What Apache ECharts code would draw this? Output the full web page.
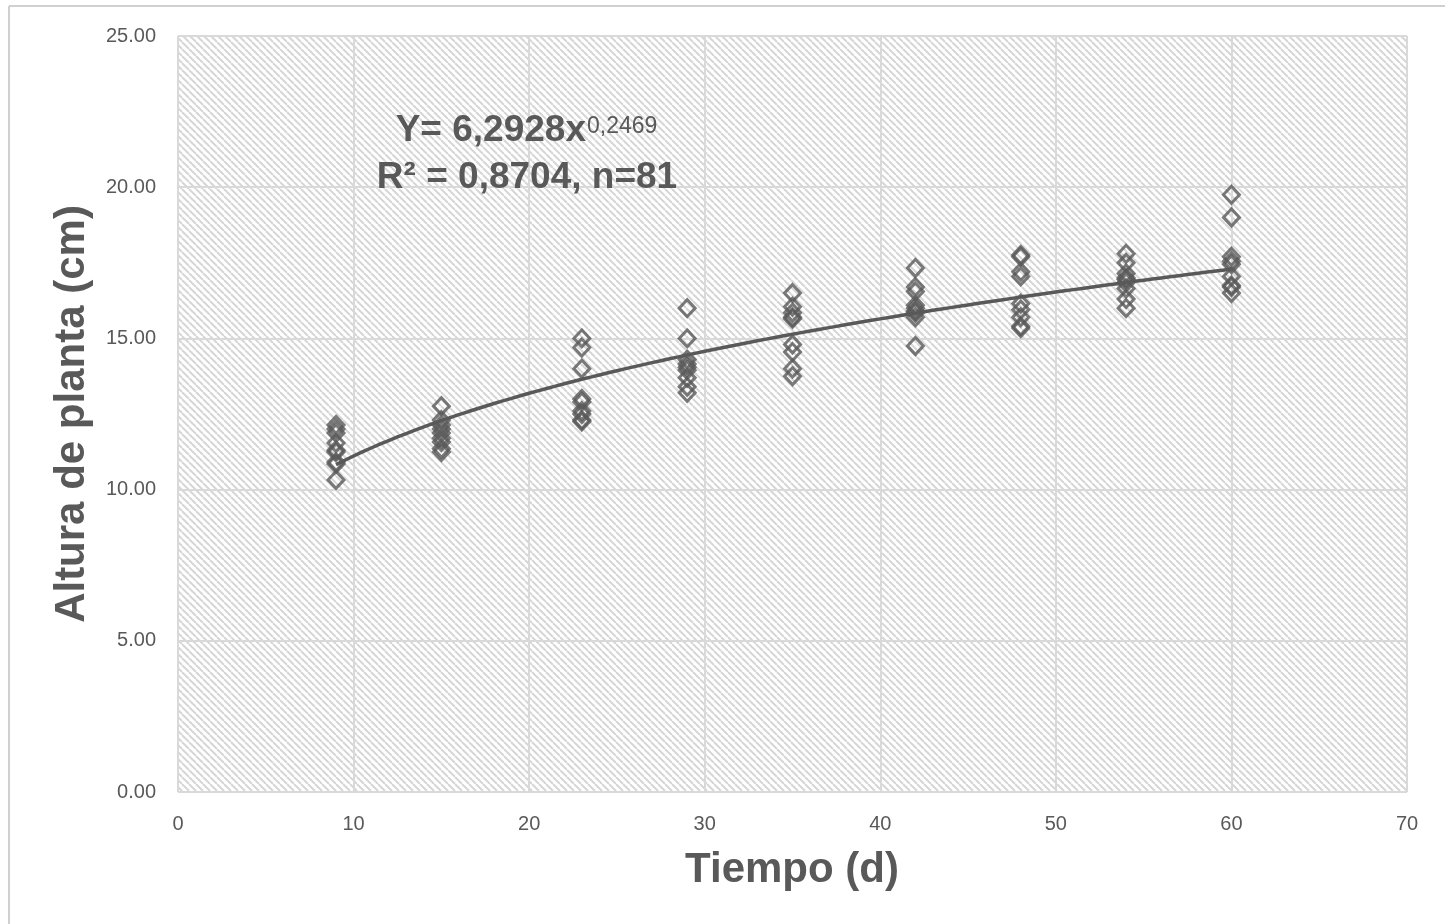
<!DOCTYPE html>
<html>
<head>
<meta charset="utf-8">
<style>
  html, body { margin: 0; padding: 0; background: #ffffff; }
  #chart { width: 1445px; height: 924px; }
</style>
<script src="https://cdn.jsdelivr.net/npm/echarts@6/dist/echarts.min.js"></script>
</head>
<body>
<div id="chart"></div>
<script>
// Sampling days (x) and measured plant heights (cm) per day
const days = [9, 15, 23, 29, 35, 42, 48, 54, 60];
const heights = [
  [12.14, 12.00, 11.87, 11.54, 11.30, 11.24, 10.91, 10.85, 10.32],
  [12.76, 12.30, 12.14, 12.00, 11.87, 11.70, 11.57, 11.35, 11.24],
  [15.00, 14.70, 14.00, 13.00, 12.90, 12.60, 12.50, 12.30, 12.25],
  [16.00, 15.00, 14.30, 14.15, 14.05, 13.95, 13.70, 13.40, 13.20],
  [16.50, 16.05, 15.85, 15.70, 15.65, 14.80, 14.55, 14.00, 13.75],
  [17.33, 16.70, 16.55, 16.10, 16.00, 15.90, 15.85, 15.70, 14.75],
  [17.76, 17.70, 17.20, 17.05, 16.15, 15.95, 15.70, 15.40, 15.34],
  [17.80, 17.50, 17.15, 17.00, 16.95, 16.85, 16.65, 16.30, 16.00],
  [19.75, 19.00, 17.70, 17.55, 17.45, 17.05, 16.75, 16.70, 16.50]
];
// Fitted power model Y = a * x^b
const fitA = 6.2928;
const fitB = 0.2469;
const fitR2 = '0,8704';
const fitN = 81;
const yTicks = [0, 5, 10, 15, 20, 25];
const xTicks = [0, 10, 20, 30, 40, 50, 60, 70];

const points = [];
days.forEach((d, i) => heights[i].forEach(h => points.push([d, h])));

const curve = [];
for (let x = days[0]; x <= days[days.length - 1] + 1e-9; x += 0.5) {
  curve.push([x, fitA * Math.pow(x, fitB)]);
}

// Diagonal hatch tile for the plot background
function hatchTile() {
  const s = 7;
  const c = document.createElement('canvas');
  c.width = s; c.height = s;
  const g = c.getContext('2d');
  g.fillStyle = '#ffffff';
  g.fillRect(0, 0, s, s);
  g.strokeStyle = '#d6d6d6';
  g.lineWidth = 2;
  for (let k = -1; k <= 1; k++) {
    g.beginPath();
    g.moveTo(k * s, 0);
    g.lineTo(k * s + s, s);
    g.stroke();
  }
  return c;
}

const gray = '#595959';
const font = 'Liberation Sans, Arial';
const fmt = v => v.toFixed(4).replace('.', ',');
const chart = echarts.init(document.getElementById('chart'), null, { renderer: 'canvas' });
chart.setOption({
  animation: false,
  backgroundColor: '#ffffff',
  grid: {
    left: 178, right: 38, top: 36, bottom: 132,
    show: true,
    borderWidth: 0,
    backgroundColor: { image: hatchTile(), repeat: 'repeat' }
  },
  xAxis: {
    type: 'value',
    min: xTicks[0], max: xTicks[xTicks.length - 1], interval: 10,
    axisLine: { show: false },
    axisTick: { show: false },
    axisLabel: { color: gray, fontSize: 20, fontFamily: font, margin: 22 },
    splitLine: { show: true, lineStyle: { color: '#d9d9d9', width: 2 } }
  },
  yAxis: {
    type: 'value',
    min: yTicks[0], max: yTicks[yTicks.length - 1], interval: 5,
    axisLine: { show: false },
    axisTick: { show: false },
    axisLabel: {
      color: gray, fontSize: 20, fontFamily: font, margin: 22,
      formatter: v => v.toFixed(2)
    },
    splitLine: { show: true, lineStyle: { color: '#d9d9d9', width: 2 } }
  },
  series: [
    {
      type: 'scatter',
      data: points,
      symbol: 'diamond',
      symbolSize: [16, 17],
      itemStyle: { color: 'rgba(255,255,255,0)', borderColor: gray, borderWidth: 3 },
      z: 3
    },
    {
      type: 'line',
      data: curve,
      showSymbol: false,
      symbol: 'none',
      lineStyle: { color: gray, width: 3.5 },
      z: 4
    }
  ],
  graphic: [
    { type: 'line', shape: { x1: 9, y1: 6, x2: 1445, y2: 6 }, style: { stroke: '#d0d0d0', lineWidth: 2 } },
    { type: 'line', shape: { x1: 9, y1: 6, x2: 9, y2: 924 }, style: { stroke: '#d0d0d0', lineWidth: 2 } },
    {
      type: 'text', x: 72, y: 414, rotation: Math.PI / 2, z: 100,
      style: {
        text: 'Altura de planta (cm)', fill: gray, fontSize: 42, fontWeight: 'bold',
        fontFamily: font, textAlign: 'center', textVerticalAlign: 'middle'
      }
    },
    {
      type: 'text', x: 792, y: 870, z: 100,
      style: {
        text: 'Tiempo (d)', fill: gray, fontSize: 42, fontWeight: 'bold',
        fontFamily: font, textAlign: 'center', textVerticalAlign: 'middle'
      }
    },
    // Equation: main part and exponent
    {
      type: 'text', x: 586, y: 131, z: 100,
      style: {
        text: 'Y= ' + fmt(fitA) + 'x', fill: gray, fontSize: 37, fontWeight: 'bold',
        fontFamily: font, textAlign: 'right', textVerticalAlign: 'middle'
      }
    },
    {
      type: 'text', x: 587, y: 115, z: 100,
      style: {
        text: fmt(fitB), fill: gray, fontSize: 23,
        fontFamily: font, textAlign: 'left', textVerticalAlign: 'top'
      }
    },
    {
      type: 'text', x: 527, y: 178, z: 100,
      style: {
        text: 'R² = ' + fitR2 + ', n=' + fitN,
        fill: gray, fontSize: 37, fontWeight: 'bold', fontFamily: font,
        textAlign: 'center', textVerticalAlign: 'middle'
      }
    }
  ]
});
</script>
</body>
</html>
